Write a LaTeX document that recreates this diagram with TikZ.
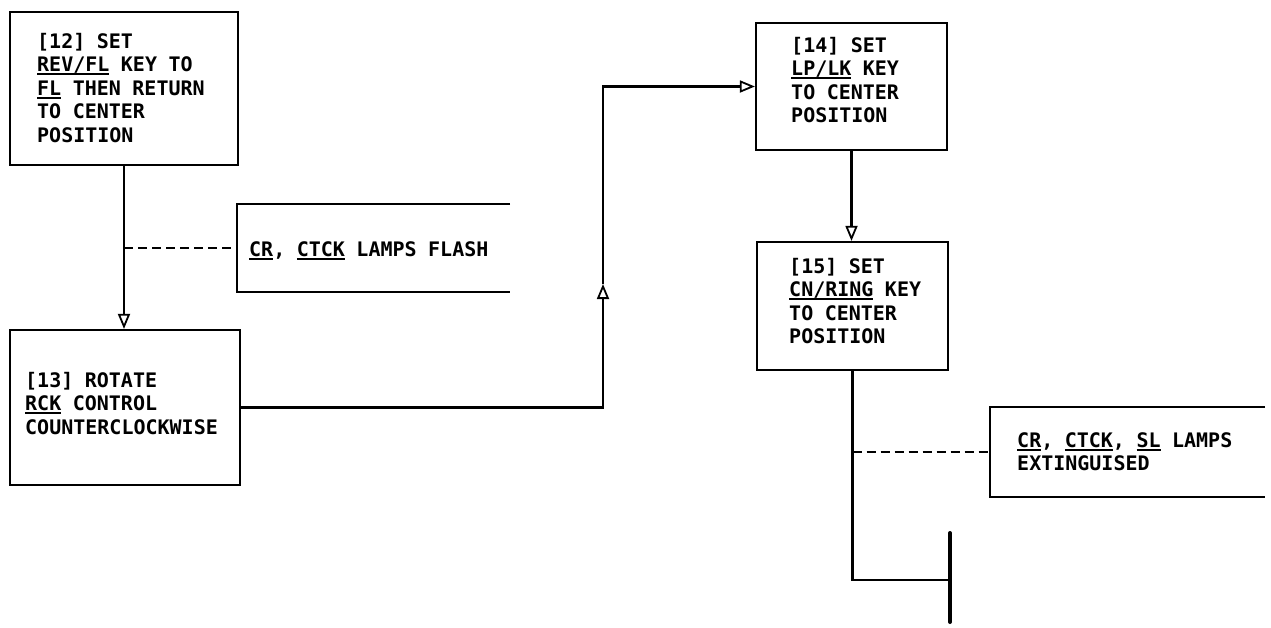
\documentclass[tikz,border=0pt]{standalone}
\usepackage{fontspec}
\setmonofont{DejaVu Sans Mono}
\usetikzlibrary{arrows.meta}
\newcommand\ulx[1]{\leavevmode\setbox0=\hbox{#1}\rlap{\rule[-3.8pt]{\wd0}{2pt}}\box0\relax}
\newcommand\boxfont{\ttfamily\bfseries\fontsize{20}{23.5}\selectfont}
\newcommand\widespace{\spaceskip=11.5pt\relax\xspaceskip=11.5pt\relax}
\begin{document}
\begin{tikzpicture}[x=1pt,y=-1pt,
  box/.style={draw,line width=2.2pt,rectangle,inner sep=0pt},
  ann/.style={rectangle,inner sep=0pt},
  txt/.style={anchor=base west,inner sep=0pt,text width=#1,align=left,
    font=\boxfont,execute at begin node=\widespace},
  txt/.default=260pt,
  conn/.style={line width=2.2pt},
  dashconn/.style={line width=1.8pt,dash pattern=on 9pt off 5pt},
  arr/.style={conn,-{Triangle[open,length=15pt,width=12pt,line width=1.8pt]}}]
\useasboundingbox (0,0) rectangle (1271,627);
% boxes
\node[box,minimum width=228pt,minimum height=153pt] (b12) at (124,88.5) {};
\node[box,minimum width=230pt,minimum height=155pt] (b13) at (125,407.5) {};
\node[box,minimum width=191pt,minimum height=127pt] (b14) at (851.5,86.5) {};
\node[box,minimum width=191pt,minimum height=128pt] (b15) at (852.5,306) {};
\node[ann,minimum width=273pt,minimum height=88pt] (a1) at (373.5,248) {};
\node[ann,minimum width=275pt,minimum height=90pt] (a2) at (1127.5,452) {};
% texts
\node[txt] (t12) at (37,48) {[12] SET\\\ulx{REV/FL} KEY TO\\\ulx{FL} THEN RETURN\\TO CENTER\\POSITION};
\node[txt] (t13) at (25,387) {[13] ROTATE\\\ulx{RCK} CONTROL\\COUNTERCLOCKWISE};
\node[txt] (t14) at (791,52) {[14] SET\\\ulx{LP/LK} KEY\\TO CENTER\\POSITION};
\node[txt] (t15) at (789,273) {[15] SET\\\ulx{CN/RING} KEY\\TO CENTER\\POSITION};
\node[txt=300pt] (ta1) at (249,256) {\ulx{CR}, \ulx{CTCK} LAMPS FLASH};
\node[txt=300pt] (ta2) at (1017,447) {\ulx{CR}, \ulx{CTCK}, \ulx{SL} LAMPS\\EXTINGUISED};
% annotation brackets
\draw[conn] (a1.north east) -- (a1.north west) -- (a1.south west) -- (a1.south east);
\draw[conn] (a2.north east) -- (a2.north west) -- (a2.south west) -- (a2.south east);
% connectors
\draw[arr] (b12.south) -- (b12.south |- b13.north);
\draw[dashconn] (b12.south |- a1.west) -- (a1.west);
\coordinate (c2) at (603,284);
\draw[arr] (b13.east) -| (c2);
\draw[arr] (c2) |- (b14.west);
\draw[arr] (b14.south) -- (b14.south |- b15.north);
\coordinate (c4) at (950,580);
\coordinate (bt) at (950,533);
\coordinate (bb) at (950,622);
\draw[conn] (b15.south) |- (c4);
\draw[dashconn] (b15.south |- a2.west) -- (a2.west);
\draw[line width=4pt,line cap=round] (bt) -- (bb);
\end{tikzpicture}
\end{document}
